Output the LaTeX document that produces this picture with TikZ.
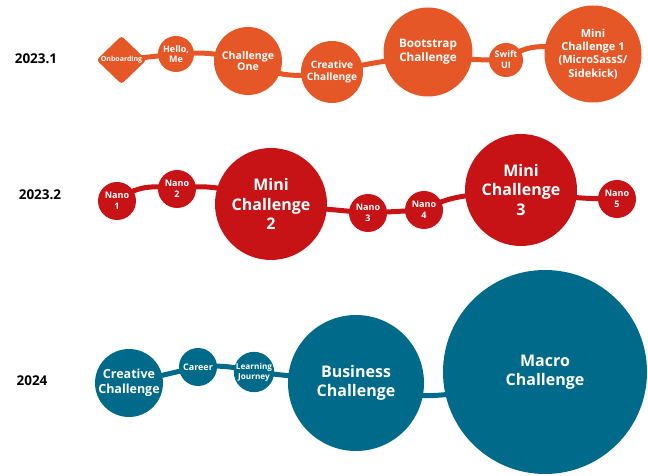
\documentclass[tikz,border=0pt]{standalone}
\usepackage{fontspec}
\setmainfont{Open Sans}
\usetikzlibrary{shapes.geometric,backgrounds,positioning}

\definecolor{orangeA}{RGB}{229,87,38}
\definecolor{redB}{RGB}{199,18,22}
\definecolor{tealC}{RGB}{0,106,138}

% bold text at a given size, leading 1.2
\newcommand{\fs}[1]{\fontsize{#1}{\dimexpr #1pt*6/5\relax}\selectfont\bfseries}
% same, tight leading
\newcommand{\fst}[1]{\fontsize{#1}{\dimexpr #1pt*21/20\relax}\selectfont\bfseries}

\begin{document}
\begin{tikzpicture}[x=1pt,y=1pt,
	bub/.style={circle,fill=#1,text=white,inner sep=0pt,align=center},
	link/.style={draw=#1,line width=5pt},
	yr/.style={font=\fs{13.5}}]
	\useasboundingbox (0,0) rectangle (648,476);
	%% 2023.1
	\node[yr] (ya) at (36,417) {2023.1};
	\node[diamond,fill=orangeA,rounded corners=3pt,minimum width=50pt,minimum height=48pt,
		inner sep=0pt,text=white,font=\fs{7}] (a1) at (121.5,416) {Onboarding};
	\node[bub=orangeA,minimum size=36pt,font=\fst{9}] (a2) at (176,422) {Hello,\\Me};
	\node[bub=orangeA,minimum size=68pt,font=\fst{10.6}] (a3) at (248,415) {Challenge\\One};
	\node[bub=orangeA,minimum size=62pt,font=\fs{10.2}] (a4) at (332,404) {Creative\\Challenge};
	\node[bub=orangeA,minimum size=89pt,font=\fs{11.7}] (a5) at (428,424) {Bootstrap\\Challenge};
	\node[bub=orangeA,minimum size=34pt,font=\fs{9}] (a6) at (506,416) {Swift\\UI};
	\node[bub=orangeA,minimum size=97pt,font=\fs{11}] (a7) at (593,422) {Mini\\Challenge 1\\(MicroSassS/\\Sidekick)};
	%% 2023.2
	\node[yr] (yb) at (40,281) {2023.2};
	\node[bub=redB,minimum size=38pt,font=\fs{9}] (b1) at (117,275) {Nano\\1};
	\node[bub=redB,minimum size=38pt,font=\fs{9}] (b2) at (177,287) {Nano\\2};
	\node[bub=redB,minimum size=112pt,font=\fs{16}] (b3) at (271,272) {Mini\\Challenge\\2};
	\node[bub=redB,minimum size=38pt,font=\fs{9}] (b4) at (368,263) {Nano\\3};
	\node[bub=redB,minimum size=38pt,font=\fs{9}] (b5) at (424,266) {Nano\\4};
	\node[bub=redB,minimum size=112pt,font=\fs{16}] (b6) at (521,286) {Mini\\Challenge\\3};
	\node[bub=redB,minimum size=38pt,font=\fs{9}] (b7) at (617,277) {Nano\\5};
	%% 2024
	\node[yr] (yc) at (32,95) {2024};
	\node[bub=tealC,minimum size=68pt,font=\fs{12.5}] (c1) at (129,93) {Creative\\Challenge};
	\node[bub=tealC,minimum size=38pt,font=\fs{9}] (c2) at (198,109) {Career};
	\node[bub=tealC,minimum size=38pt,font=\fs{8.2}] (c3) at (254,104) {Learning\\Journey};
	\node[bub=tealC,minimum size=136pt,font=\fs{16}] (c4) at (356,93) {Business\\Challenge};
	\node[bub=tealC,minimum size=204pt,font=\fs{16}] (c5) at (545,104) {Macro\\Challenge};
	% lines behind the bubbles
	\begin{scope}[on background layer]
		\draw[link=orangeA] (a1.center) -- (a2.center);
		\draw[link=orangeA] (a2.center) to[out=5,in=165] (a3.center);
		\draw[link=orangeA] (a3.center) to[out=-30,in=190] (a4.center);
		\draw[link=orangeA] (a4.center) to[out=15,in=195] (a5.center);
		\draw[link=orangeA] (a5.center) to[out=-15,in=180] (a6.center);
		\draw[link=orangeA] (a6.center) to[out=40,in=170] (a7.center);
		\draw[link=redB] (b1.center) to[out=40,in=170] (b2.center);
		\draw[link=redB] (b2.center) to[out=10,in=160] (b3.center);
		\draw[link=redB] (b3.center) -- (b4.center);
		\draw[link=redB] (b4.center) -- (b5.center);
		\draw[link=redB] (b5.center) to[out=30,in=190] (b6.center);
		\draw[link=redB] (b6.center) to[out=-10,in=180] (b7.center);
		\draw[link=tealC] (c1.center) -- (c2.center);
		\draw[link=tealC] (c2.center) to[out=5,in=165] (c3.center);
		\draw[link=tealC] (c3.center) -- (c4.center);
		\draw[link=tealC] (c4.center) to[out=-20,in=195] (c5.center);
	\end{scope}
\end{tikzpicture}
\end{document}
